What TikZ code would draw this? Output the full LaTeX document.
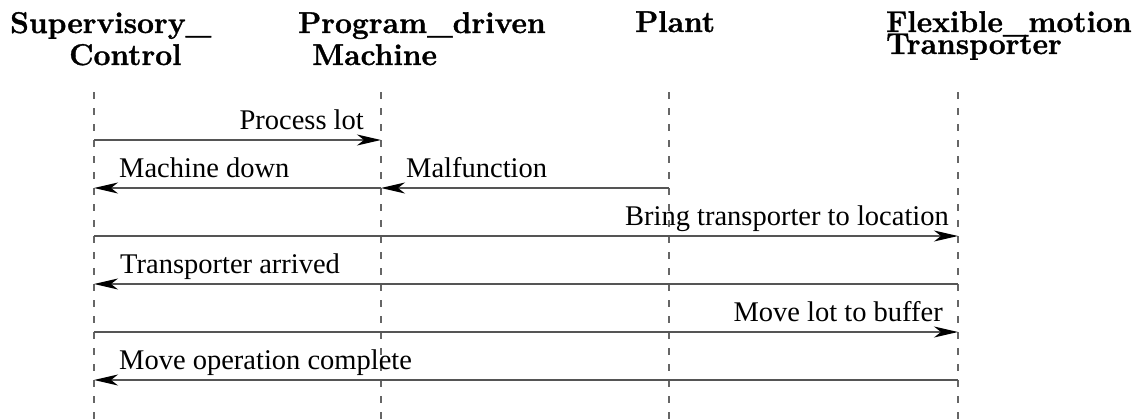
\documentclass[tikz,border=0pt]{standalone}
\usepackage{fontspec}
\newfontfamily\msgfont{Liberation Serif}
\newfontfamily\hdrfont{Latin Modern Roman}[BoldFeatures={FakeBold=1.2}]
\usetikzlibrary{arrows.meta}
\definecolor{lifegray}{HTML}{666666}
\definecolor{msggray}{HTML}{555555}
\begin{document}
\begin{tikzpicture}[x=1pt,y=-1pt,
  hdr/.style={anchor=base west, inner sep=0pt, font=\hdrfont\fontsize{30}{36}\selectfont\bfseries},
  lbl/.style={inner sep=0pt, font=\msgfont\fontsize{28.5}{34}\selectfont},
  lifeline/.style={draw=lifegray, line width=1.8pt, dash pattern=on 7pt off 9pt},
  msg/.style={draw=msggray, line width=1.5pt,
    -{Stealth[length=24pt,width=11pt,inset=7pt,color=black]}},
]
\useasboundingbox (0,0) rectangle (1132,420);

% participant headings
\node[hdr] (sup1) at (10,33) {Supervisory\_};
\node[hdr] (sup2) at (69,65) {Control};
\node[hdr] (prg1) at (298,33) {Program\_driven};
\node[hdr] (prg2) at (312,65) {Machine};
\node[hdr] (plt)  at (635,32) {Plant};
\node[hdr] (fle1) at (886,32) {Flexible\_motion};
\node[hdr] (fle2) at (886,54) {Transporter};

% lifelines
\coordinate (sc) at (94,92);
\coordinate (pm) at (381,92);
\coordinate (pl) at (669,92);
\coordinate (ft) at (958,92);
\coordinate (bottom) at (0,420);
\foreach \l in {sc,pm,pl,ft}
  \draw[lifeline] (\l) -- (\l |- bottom);

% message rows
\coordinate (m1) at (0,140);
\coordinate (m2) at (0,188);
\coordinate (m3) at (0,236);
\coordinate (m4) at (0,284);
\coordinate (m5) at (0,332);
\coordinate (m6) at (0,380);

\draw[msg] (sc |- m1) -- (pm |- m1);
\node[lbl, anchor=base east] (t1) at (364,129) {Process lot};

\draw[msg] (pm |- m2) -- (sc |- m2);
\node[lbl, anchor=base west] (t2) at (119,177) {Machine down};

\draw[msg] (pl |- m2) -- (pm |- m2);
\node[lbl, anchor=base west] (t3) at (406,177) {Malfunction};

\draw[msg] (sc |- m3) -- (ft |- m3);
\node[lbl, anchor=base east] (t4) at (949,225) {Bring transporter to location};

\draw[msg] (ft |- m4) -- (sc |- m4);
\node[lbl, anchor=base west] (t5) at (120,273) {Transporter arrived};

\draw[msg] (sc |- m5) -- (ft |- m5);
\node[lbl, anchor=base east] (t6) at (943,321) {Move lot to buffer};

\draw[msg] (ft |- m6) -- (sc |- m6);
\node[lbl, anchor=base west] (t7) at (119,369) {Move operation complete};
\end{tikzpicture}
\end{document}
